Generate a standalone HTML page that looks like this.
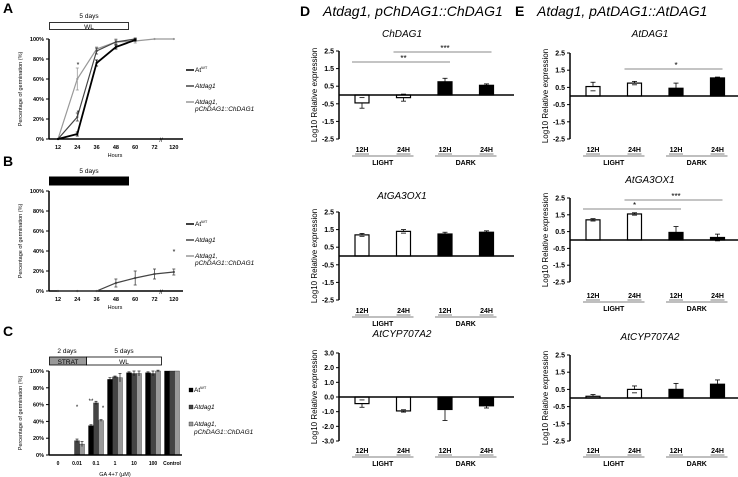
<!DOCTYPE html>
<html><head><meta charset="utf-8"><style>
body{margin:0;background:#fff}
svg{display:block;font-family:"Liberation Sans",Arial,sans-serif}
</style></head><body>
<svg id="fig" width="738" height="477" viewBox="0 0 738 477" xmlns="http://www.w3.org/2000/svg"></svg>
<script>
// ---------- Panel A data ----------
const hoursLabels = ["12","24","36","48","60","72","120"];
const aWT = [0,5,76,92,99];
const aWTerr = [0,2,3,2,1];
const aDag = [0,22,88,97,100];
const aDagErr = [0,4,3,2,1];
const aTrans = [0,60,90,97,98,100,100];
const aTransErr = [0,11,2,3,2,0,0];
// ---------- Panel B data ----------
const bDag = [0,0,0,8,13,17,19];
const bDagErr = [0,0,0,4,7,5,3];
// ---------- Panel C data ----------
const gaLabels = ["0","0.01","0.1","1","10","100","Control"];
const cWT = [0,0,35,90,98,98,100];
const cWTerr = [0,0,1,2,1,1,0];
const cDag = [0,17,62,93,97,97,100];
const cDagErr = [0,2,2,1,3,3,0];
const cTrans = [0,13,41,92,97,100,100];
const cTransErr = [0,3,1,5,3,1,0];
const pctTicks = [0,20,40,60,80,100];
// ---------- Panels D/E data ----------
const exprCats = ["12H","24H","12H","24H"];
const dChDAG1 = [-0.45,-0.15,0.75,0.55];
const dChDAG1Err = [0.3,0.2,0.2,0.08];
const dGA3OX1 = [1.2,1.4,1.25,1.35];
const dGA3OX1Err = [0.08,0.1,0.1,0.08];
const dCYP = [-0.45,-0.95,-0.85,-0.6];
const dCYPErr = [0.25,0.08,0.75,0.15];
const eAtDAG1 = [0.55,0.75,0.45,1.05];
const eAtDAG1Err = [0.25,0.1,0.3,0.05];
const eGA3OX1 = [1.2,1.55,0.45,0.15];
const eGA3OX1Err = [0.07,0.07,0.35,0.2];
const eCYP = [0.1,0.5,0.5,0.8];
const eCYPErr = [0.1,0.2,0.35,0.25];
const ticks25 = [2.5,1.5,0.5,-0.5,-1.5,-2.5];
const ticks3 = [3,2,1,0,-1,-2,-3];

const NS="http://www.w3.org/2000/svg";
const svg=document.getElementById('fig');
function el(tag,attrs,parent,text){
  const e=document.createElementNS(NS,tag);
  for(const k in attrs)e.setAttribute(k,attrs[k]);
  if(text!==undefined)e.textContent=text;
  (parent||svg).appendChild(e);return e;
}
function txt(x,y,s,size,opts,parent){
  opts=opts||{};
  const t=el('text',{x:x,y:y,'font-size':size,'text-anchor':opts.anchor||'middle',fill:opts.fill||'#000','font-style':opts.italic?'italic':'normal','font-weight':opts.bold?'bold':'normal'},parent,s);
  if(opts.rot)t.setAttribute('transform','rotate(-90 '+x+' '+y+')');
  return t;
}
function panelLetter(x,y,s){const t=txt(x,y,s,14,{anchor:'start',bold:true});}

// ===== Line panels A & B =====
const xPos=i=>58+i*19.3;
function lineAxes(g,top,bottom,name){
  const y=v=>bottom-(v/100)*(bottom-top);
  el('line',{x1:49,y1:top,x2:49,y2:bottom,stroke:'#000','stroke-width':1.5},g);
  el('line',{x1:49,y1:bottom,x2:183,y2:bottom,stroke:'#000','stroke-width':1.5},g);
  pctTicks.forEach(v=>{
    el('line',{x1:46,y1:y(v),x2:49,y2:y(v),stroke:'#000'},g);
    const t=txt(44,y(v)+2,v+'%',5.5,{anchor:'end',bold:true},g);
    
  });
  hoursLabels.forEach((h,i)=>{
    const t=txt(xPos(i),bottom+10,h,5.5,{bold:true},g);
    
  });
  el('text',{x:161,y:bottom+3,'font-size':6,'text-anchor':'middle'},g,'//');
  const yt=txt(22,(top+bottom)/2,'Percentage of germination (%)',5.5,{rot:true},g);
  
  return y;
}
function series(g,vals,errs,y,color,w,name){
  const pts=vals.map((v,i)=>xPos(i)+','+y(v)).join(' ');
  const p=el('polyline',{points:pts,fill:'none',stroke:color,'stroke-width':w},g);
  
  vals.forEach((v,i)=>{
    const e=errs[i];
    if(e>0){
      el('line',{x1:xPos(i),y1:y(v+e),x2:xPos(i),y2:y(v-e),stroke:color,'stroke-width':0.8},g);
      el('line',{x1:xPos(i)-1.5,y1:y(v+e),x2:xPos(i)+1.5,y2:y(v+e),stroke:color,'stroke-width':0.8},g);
      el('line',{x1:xPos(i)-1.5,y1:y(v-e),x2:xPos(i)+1.5,y2:y(v-e),stroke:color,'stroke-width':0.8},g);
    }
    el('circle',{cx:xPos(i),cy:y(v),r:1.1,fill:color},g);
  });
}
function lineLegend(g,y0){
  const items=[['#000','At','WT',false],['#444','Atdag1','',true],['#999','Atdag1,','',true]];
  items.forEach((it,i)=>{
    const yy=y0+i*16;
    const l=el('line',{x1:186,y1:yy,x2:194,y2:yy,stroke:it[0],'stroke-width':1.5},g);
    
    const t=txt(195,yy+2,it[1],6.5,{anchor:'start',italic:it[3]},g);
    if(it[2]){el('tspan',{'font-size':4,dy:-3},t,it[2]);}
  });
  txt(195,y0+41,'pChDAG1::ChDAG1',6.5,{anchor:'start',italic:true},g);
}
// Panel A
panelLetter(3,13,'A');
const gA=el('g',{});
txt(89,18,'5 days',6.5,{},gA);
el('rect',{x:49.5,y:22.5,width:79,height:7,fill:'#fff',stroke:'#000','stroke-width':0.8},gA);
txt(89,29,'WL',6.5,{},gA);
const yA=lineAxes(gA,39,139,'a');
series(gA,aTrans,aTransErr,yA,'#999',1.2,'series-transgenic');
series(gA,aDag,aDagErr,yA,'#444',1.2,'series-atdag1');
series(gA,aWT,aWTerr,yA,'#000',1.8,'series-wt');
txt(78,67,'*',7,{},gA);txt(78,115,'*',7,{},gA);
txt(115,157,'Hours',5.5,{},gA);
lineLegend(gA,70);
// Panel B
panelLetter(3,166,'B');
const gB=el('g',{});
txt(89,173,'5 days',6.5,{},gB);
el('rect',{x:49.5,y:177,width:79,height:8,fill:'#000',stroke:'#000'},gB);
const yB=lineAxes(gB,191,291,'b');
series(gB,bDag,bDagErr,yB,'#444',1.2,'series-atdag1');
txt(174,254,'*',7,{},gB);
txt(115,309,'Hours',5.5,{},gB);
lineLegend(gB,224);

// ===== Panel C bars =====
panelLetter(3,336,'C');
const gC=el('g',{});
txt(67,353,'2 days',6.5,{},gC);txt(124,353,'5 days',6.5,{},gC);
el('rect',{x:49.5,y:357,width:37,height:8,fill:'#999',stroke:'#000','stroke-width':0.8},gC);
el('rect',{x:86.5,y:357,width:75,height:8,fill:'#fff',stroke:'#000','stroke-width':0.8},gC);
txt(68,364,'STRAT',6.5,{},gC);txt(124,364,'WL',6.5,{},gC);
const cTop=371,cBot=455,yC=v=>cBot-v/100*(cBot-cTop),xC=i=>58+i*19;
[[cWT,cWTerr,'#000'],[cDag,cDagErr,'#444'],[cTrans,cTransErr,'#999']].forEach((s,si)=>{
  s[0].forEach((v,i)=>{
    const x=xC(i)-7.5+si*5;
    const r=el('rect',{x:x,y:yC(v),width:5,height:cBot-yC(v),fill:s[2],stroke:'#000','stroke-width':0.3},gC);
    
    if(s[1][i]>0){const cx=x+2.5;
      el('line',{x1:cx,y1:yC(v+s[1][i]),x2:cx,y2:yC(v-s[1][i]),stroke:'#000','stroke-width':0.6},gC);
      el('line',{x1:cx-1.5,y1:yC(v+s[1][i]),x2:cx+1.5,y2:yC(v+s[1][i]),stroke:'#000','stroke-width':0.6},gC);}
  });
});
el('line',{x1:49,y1:cTop,x2:49,y2:cBot,stroke:'#000','stroke-width':1.5},gC);
el('line',{x1:49,y1:cBot,x2:182,y2:cBot,stroke:'#000','stroke-width':1.5},gC);
pctTicks.forEach(v=>{el('line',{x1:46,y1:yC(v),x2:49,y2:yC(v),stroke:'#000'},gC);txt(44,yC(v)+2,v+'%',5.5,{anchor:'end',bold:true},gC);});
gaLabels.forEach((l,i)=>txt(xC(i),465,l,5,{bold:true},gC));
txt(115,476,'GA 4+7 (µM)',5.5,{},gC);
txt(22,413,'Percentage of germination (%)',5.5,{rot:true},gC);
txt(77,409,'*',6,{},gC);txt(91,403,'**',6,{},gC);txt(103,410,'*',6,{},gC);
[['#000','At','WT',false],['#444','Atdag1','',true],['#999','Atdag1,','',true]].forEach((it,i)=>{
  const yy=392+i*17;
  el('rect',{x:189,y:yy-4,width:4,height:4,fill:it[0],stroke:'#000','stroke-width':0.3},gC);
  const t=txt(194,yy,it[1],6.5,{anchor:'start',italic:it[3]},gC);
  if(it[2])el('tspan',{'font-size':4,dy:-3},t,it[2]);
});
txt(194,434,'pChDAG1::ChDAG1',6.5,{anchor:'start',italic:true},gC);

// ===== Expression bar charts D/E =====
function exprChart(o){
  const g=el('g',{});
  const ticks=o.ticks, tmax=ticks[0], tmin=ticks[ticks.length-1];
  const y=v=>o.top+(tmax-v)/(tmax-tmin)*(o.bottom-o.top);
  txt(o.titleX,o.titleY,o.title,10,{italic:true},g);
  el('line',{x1:o.ax,y1:o.top,x2:o.ax,y2:o.bottom,stroke:'#000','stroke-width':1.5},g);
  ticks.forEach(v=>{el('line',{x1:o.ax-3,y1:y(v),x2:o.ax,y2:y(v),stroke:'#000'},g);
    txt(o.ax-5,y(v)+2.5,o.fmt(v),7,{anchor:'end',bold:true},g);});
  txt(o.ax-22,(o.top+o.bottom)/2,'Log10 Relative expression',8,{rot:true},g);
  const bx=i=>o.ax+23+i*41.5;
  o.vals.forEach((v,i)=>{
    const y0=y(0),yv=y(v);
    const r=el('rect',{x:bx(i)-7,y:Math.min(y0,yv),width:14,height:Math.abs(yv-y0),fill:i<2?'#fff':'#000',stroke:'#000','stroke-width':1.2},g);
    
    
    const e=o.errs[i],end=v>=0?v+e:v-e;
    el('line',{x1:bx(i),y1:yv,x2:bx(i),y2:y(end),stroke:'#000','stroke-width':0.8},g);
    el('line',{x1:bx(i)-2.5,y1:y(end),x2:bx(i)+2.5,y2:y(end),stroke:'#000','stroke-width':0.8},g);
    el('line',{x1:bx(i)-2.5,y1:y(v-(v>=0?e:-e)),x2:bx(i)+2.5,y2:y(v-(v>=0?e:-e)),stroke:'#000','stroke-width':0.8},g);
    txt(bx(i),o.labY,exprCats[i],7,{bold:true},g);
    el('line',{x1:bx(i)-7,y1:o.labY+2,x2:bx(i)+7,y2:o.labY+2,stroke:'#000','stroke-width':0.5},g);
  });
  el('line',{x1:o.ax,y1:y(0),x2:o.ax+175,y2:y(0),stroke:'#000','stroke-width':1.5},g);
  el('line',{x1:bx(0)-10,y1:o.labY+4,x2:bx(1)+10,y2:o.labY+4,stroke:'#000','stroke-width':0.6},g);
  el('line',{x1:bx(2)-10,y1:o.labY+4,x2:bx(3)+10,y2:o.labY+4,stroke:'#000','stroke-width':0.6},g);
  txt((bx(0)+bx(1))/2,o.labY+13,'LIGHT',7,{bold:true},g);
  txt((bx(2)+bx(3))/2,o.labY+13,'DARK',7,{bold:true},g);
  (o.sig||[]).forEach(s=>{
    el('line',{x1:bx(s[0])-10,y1:s[2],x2:bx(s[1])+5,y2:s[2],stroke:'#888','stroke-width':1},g);
    txt((bx(s[0])+bx(s[1]))/2,s[2]-1,s[3],8,{},g);
  });
}
const f1=v=>v.toFixed(1);
panelLetter(300,16,'D');
txt(323,16,'Atdag1, pChDAG1::ChDAG1',14,{anchor:'start',italic:true});
panelLetter(515,16,'E');
txt(537,16,'Atdag1, pAtDAG1::AtDAG1',14,{anchor:'start',italic:true});
exprChart({name:'chart-d-chdag1',title:'ChDAG1',titleX:402,titleY:37,ax:339,top:51,bottom:139,ticks:ticks25,fmt:f1,vals:dChDAG1,errs:dChDAG1Err,labY:152,sig:[[0,2,62,'**'],[1,3,52,'***']]});
exprChart({name:'chart-d-atga3ox1',title:'AtGA3OX1',titleX:402,titleY:199,ax:339,top:212,bottom:300,ticks:ticks25,fmt:f1,vals:dGA3OX1,errs:dGA3OX1Err,labY:313});
exprChart({name:'chart-d-atcyp707a2',title:'AtCYP707A2',titleX:402,titleY:337,ax:339,top:353,bottom:441,ticks:ticks3,fmt:f1,vals:dCYP,errs:dCYPErr,labY:453});
exprChart({name:'chart-e-atdag1',title:'AtDAG1',titleX:650,titleY:37,ax:570,top:53,bottom:139,ticks:ticks25,fmt:f1,vals:eAtDAG1,errs:eAtDAG1Err,labY:152,sig:[[1,3,69,'*']]});
exprChart({name:'chart-e-atga3ox1',title:'AtGA3OX1',titleX:650,titleY:183,ax:570,top:198,bottom:282,ticks:ticks25,fmt:f1,vals:eGA3OX1,errs:eGA3OX1Err,labY:298,sig:[[0,2,209,'*'],[1,3,200,'***']]});
exprChart({name:'chart-e-atcyp707a2',title:'AtCYP707A2',titleX:650,titleY:340,ax:570,top:355,bottom:441,ticks:ticks25,fmt:f1,vals:eCYP,errs:eCYPErr,labY:453});
</script>
</body></html>
